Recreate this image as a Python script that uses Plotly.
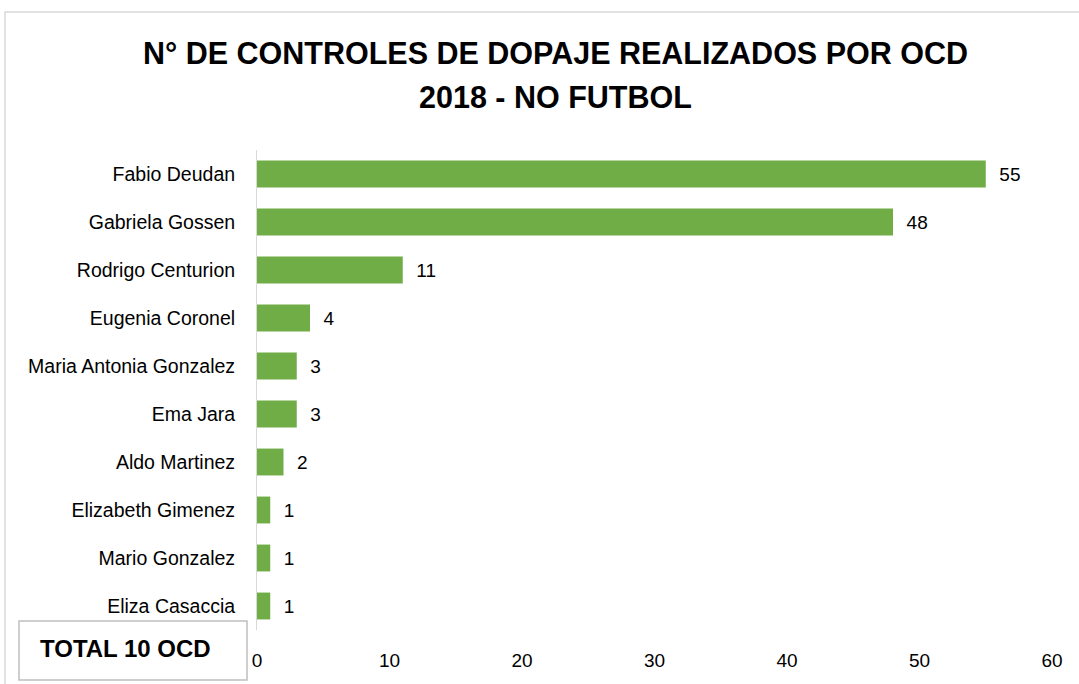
import plotly.graph_objects as go

W, H = 1079, 684

names = ["Fabio Deudan", "Gabriela Gossen", "Rodrigo Centurion", "Eugenia Coronel",
         "Maria Antonia Gonzalez", "Ema Jara", "Aldo Martinez", "Elizabeth Gimenez",
         "Mario Gonzalez", "Eliza Casaccia"]
controles = [55, 48, 11, 4, 3, 3, 2, 1, 1, 1]
x_ticks = [0, 10, 20, 30, 40, 50, 60]
title_lines = ["N° DE CONTROLES DE DOPAJE REALIZADOS POR OCD", "2018 - NO FUTBOL"]
total_label = "TOTAL 10 OCD"

FONT = "Liberation Sans Narrow, Arial Narrow, Liberation Sans, Arial, sans-serif"
GREEN = "#70AD47"

def px(x):
    return x / W

def py(y):
    return 1 - y / H

fig = go.Figure()
fig.add_trace(go.Bar(
    x=controles, y=names, orientation="h",
    marker=dict(color=GREEN, line=dict(width=0)),
    text=controles, texttemplate="\u00a0\u00a0%{x}", textposition="outside",
    textfont=dict(family=FONT, size=19, color="#000000"),
    cliponaxis=False, width=0.56, hoverinfo="skip",
))

fig.update_layout(
    width=W, height=H, autosize=False,
    margin=dict(l=0, r=0, t=0, b=0, autoexpand=False),
    paper_bgcolor="white", plot_bgcolor="white",
    showlegend=False,
    font=dict(family=FONT, size=19, color="#000000"),
    xaxis=dict(domain=[px(257), px(1052)], range=[0, 60], tickvals=x_ticks,
               showgrid=False, zeroline=False, showline=False, automargin=False,
               ticks="outside", ticklen=13, tickcolor="rgba(0,0,0,0)",
               tickfont=dict(family=FONT, size=19, color="#000000")),
    yaxis=dict(domain=[py(630), py(150)], autorange="reversed", automargin=False,
               showgrid=False, zeroline=False, showline=True, linecolor="#d9d9d9", linewidth=1,
               ticks="outside", ticklen=17, tickcolor="rgba(0,0,0,0)",
               tickfont=dict(family=FONT, size=19.5, color="#000000")),
)

# title, two lines
for line, yc in zip(title_lines, [53, 97]):
    fig.add_annotation(text="<b>" + line + "</b>", xref="paper", yref="paper",
                       x=px(555), y=py(yc), showarrow=False, xanchor="center", yanchor="middle",
                       font=dict(family=FONT, size=30.5, color="#000000"))

# outer chart border
fig.add_shape(type="rect", xref="paper", yref="paper",
              x0=px(5), x1=px(1090), y0=py(700), y1=py(12),
              line=dict(color="#d9d9d9", width=1.5), fillcolor="rgba(0,0,0,0)", layer="below")
# total box
fig.add_shape(type="rect", xref="paper", yref="paper",
              x0=px(19), x1=px(247), y0=py(680), y1=py(621),
              line=dict(color="#bfbfbf", width=1.5), fillcolor="white")
fig.add_annotation(text="<b>" + total_label + "</b>", xref="paper", yref="paper",
                   x=px(125), y=py(648), showarrow=False, xanchor="center", yanchor="middle",
                   font=dict(family=FONT, size=24, color="#000000"))

fig.write_html("out.html", config={"displayModeBar": False, "responsive": False})

# remove default page margins so the figure fills the window exactly
with open("out.html", encoding="utf-8") as f:
    html = f.read()
html = html.replace("<head>", "<head><style>html,body{margin:0;padding:0;overflow:hidden}</style>", 1)
with open("out.html", "w", encoding="utf-8") as f:
    f.write(html)
